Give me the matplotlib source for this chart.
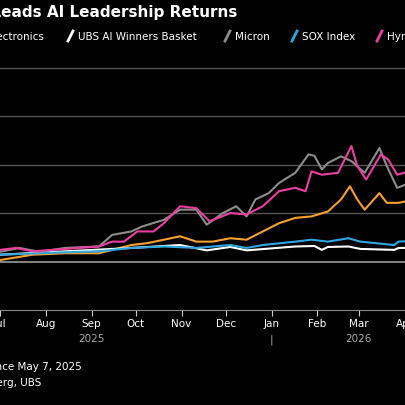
import matplotlib
matplotlib.use('Agg')
import matplotlib.pyplot as plt
import matplotlib.dates as mdates
import matplotlib.transforms as mtransforms
import pandas as pd

START = pd.Timestamp("2025-07-01")

# returns in %, day offsets from the left edge (Jul 1, 2025)
micron_days = [0, 13, 27, 44, 67, 76, 89, 96, 111, 122, 133, 140, 151, 160, 167, 173, 182, 189, 200, 209, 213, 218, 222, 231, 238, 247, 257, 262, 269, 276]
micron_vals = [20, 28, 20, 28, 31, 55, 62, 72, 86, 107, 107, 76, 100, 114, 93, 128, 141, 162, 183, 221, 218, 190, 203, 217, 207, 183, 234, 197, 152, 160]

hynix_days = [0, 11, 22, 67, 76, 84, 93, 104, 111, 122, 133, 142, 156, 167, 178, 189, 200, 207, 211, 218, 229, 238, 242, 248, 258, 263, 269, 276]
hynix_vals = [24, 28, 21, 31, 41, 41, 62, 62, 79, 114, 110, 83, 100, 97, 114, 145, 152, 145, 186, 179, 183, 238, 197, 169, 221, 210, 179, 185]

orange_days = [0, 22, 44, 67, 89, 100, 122, 133, 144, 156, 167, 178, 189, 200, 211, 222, 231, 237, 242, 247, 257, 262, 270, 276]
orange_vals = [3, 14, 17, 17, 34, 38, 52, 41, 41, 48, 45, 62, 79, 90, 93, 103, 128, 155, 128, 107, 141, 121, 121, 125]

sox_days = [0, 44, 67, 89, 111, 133, 156, 167, 178, 200, 211, 222, 236, 244, 267, 270, 276]
sox_vals = [14, 19, 21, 28, 31, 28, 34, 28, 34, 41, 45, 41, 48, 41, 34, 41, 42]

ubs_days = [0, 44, 89, 122, 140, 156, 167, 200, 213, 218, 222, 236, 244, 267, 270, 276]
ubs_vals = [14, 21, 28, 34, 23, 30, 23, 31, 32, 24, 30, 31, 26, 24, 28, 28]

series = [
    ("Samsung Electronics", orange_days, orange_vals, "#f5a031"),
    ("UBS AI Winners Basket", ubs_days, ubs_vals, "#ffffff"),
    ("SOX Index", sox_days, sox_vals, "#2fa6e0"),
    ("Micron", micron_days, micron_vals, "#8c8c8c"),
    ("Hynix", hynix_days, hynix_vals, "#ec3fa0"),
]

fig = plt.figure(figsize=(4.06, 4.06), dpi=100, facecolor='black')
ax = fig.add_axes([0, 1 - 311 / 406, 1, (311 - 55) / 406])
ax.set_facecolor('black')

for name, d, v, c in series:
    dates = [START + pd.Timedelta(days=x) for x in d]
    ax.plot(dates, v, color=c, linewidth=1.5)

ax.set_xlim(START, START + pd.Timedelta(days=275))
ax.set_ylim(-100, 428)
for y in [100, 200, 300, 400]:
    ax.axhline(y, color='#555555', linewidth=1.0, zorder=0)
ax.axhline(0, color='#9a9a9a', linewidth=1.2, zorder=0)
ax.set_yticks([])

ax.xaxis.set_major_locator(mdates.MonthLocator())
ax.xaxis.set_major_formatter(mdates.DateFormatter('%b'))
ax.tick_params(axis='x', colors='#cccccc', labelcolor='white', labelsize=7.5,
               length=4, width=0.8, direction='out', pad=2)
for s in ['top', 'left', 'right']:
    ax.spines[s].set_visible(False)
ax.spines['bottom'].set_color('#888888')

trans = mtransforms.blended_transform_factory(ax.transData, fig.transFigure)
ax.text(pd.Timestamp("2025-09-01"), 1 - 339 / 406, "2025", transform=trans,
        ha='center', va='center', color='#aaaaaa', fontsize=7.5)
ax.text(pd.Timestamp("2026-03-01"), 1 - 339 / 406, "2026", transform=trans,
        ha='center', va='center', color='#aaaaaa', fontsize=7.5)
ax.text(pd.Timestamp("2026-01-01"), 1 - 340 / 406, "|", transform=trans,
        ha='center', va='center', color='#aaaaaa', fontsize=7.5)

# title and legend (cropped on both sides like the reference)
fig.text(237 / 406, 1 - 12 / 406, "Memory Leads AI Leadership Returns", ha='right',
         va='center', color='white', fontsize=11, fontweight='bold')

legend_items = [("Samsung Electronics", "#f5a031", 44, None),
                ("UBS AI Winners Basket", "#ffffff", 78, 71),
                ("Micron", "#8c8c8c", 235, 228),
                ("SOX Index", "#2fa6e0", 302, 295),
                ("Hynix", "#ec3fa0", 387, 380)]
ly = 1 - 37 / 406
for name, c, tx, mx in legend_items:
    if mx is None:
        fig.text(tx / 406, ly, name, ha='right', va='center', color='white', fontsize=7.5)
    else:
        fig.add_artist(plt.Line2D([(mx - 3) / 406, (mx + 2) / 406], [ly - 5 / 406, ly + 5 / 406],
                                  color=c, linewidth=2, transform=fig.transFigure))
        fig.text(tx / 406, ly, name, ha='left', va='center', color='white', fontsize=7.5)

fig.text(82 / 406, 1 - 367 / 406, "Note: Performance since May 7, 2025", ha='right',
         va='center', color='white', fontsize=7.5)
fig.text(41 / 406, 1 - 383 / 406, "Source: Bloomberg, UBS", ha='right',
         va='center', color='white', fontsize=7.5)

fig.savefig('out.png', dpi=100, facecolor='black')
